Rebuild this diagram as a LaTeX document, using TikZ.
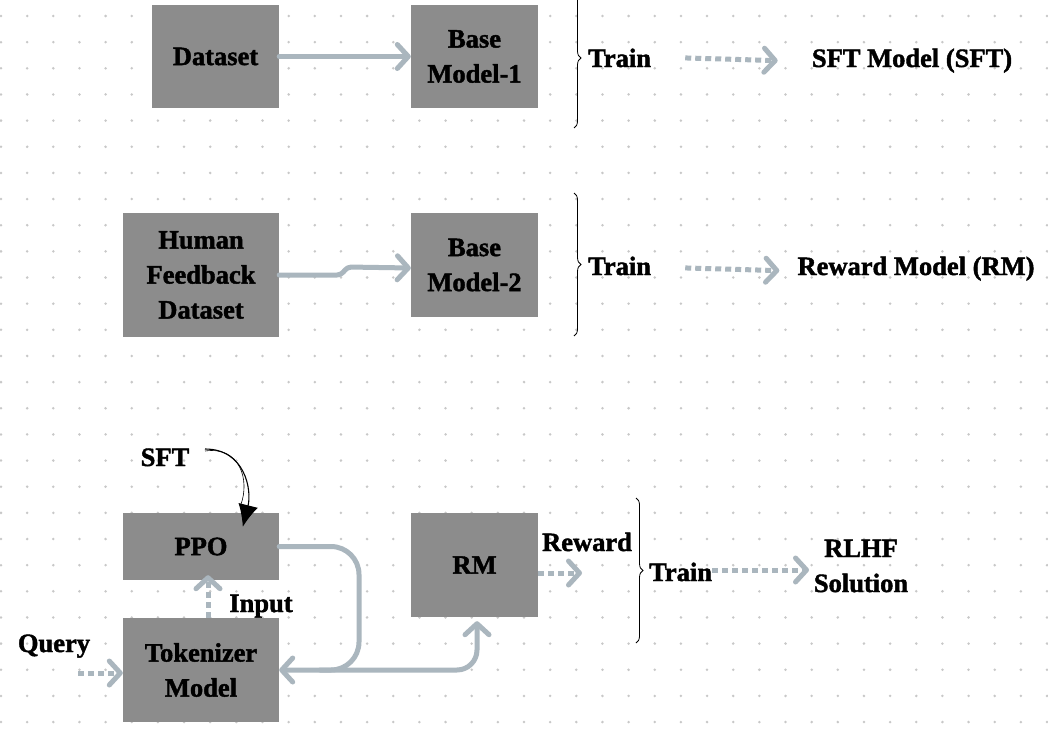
\documentclass[tikz,border=0pt]{standalone}
\usepackage{fontspec}
\setmainfont{Liberation Serif}[BoldFeatures={FakeBold=1.6}]
\usetikzlibrary{arrows.meta,decorations.pathreplacing}
\definecolor{boxgray}{RGB}{140,140,140}
\definecolor{arrowgray}{RGB}{170,182,190}
\definecolor{dotgray}{RGB}{200,200,200}
\begin{document}
\begin{tikzpicture}[x=1pt,y=-1pt,
  box/.style={fill=boxgray, inner sep=0pt, align=center, font=\bfseries\fontsize{26.5}{35}\selectfont},
  lbl/.style={inner sep=0pt, font=\bfseries\fontsize{26.5}{35}\selectfont},
  conn/.style={draw=arrowgray, line width=5pt, line cap=round, line join=round,
    -{Straight Barb[length=11pt,width=24pt,line cap=round,line join=round]}},
  dconn/.style={conn, dash pattern=on 6pt off 4pt, line cap=butt},
  brc/.style={decorate, decoration={brace, amplitude=7pt}, draw=black, line width=0.8pt}
]
\useasboundingbox (0,0) rectangle (1048,736);
\fill[white] (0,0) rectangle (1048,736);
% dot grid
\foreach \i in {0,...,40}{
  \foreach \j in {0,...,27}{
    \fill[dotgray] (1+26.15*\i, 16+26.15*\j) circle (1.4pt);
  }
}
% boxes
\node[box, minimum width=127pt, minimum height=103pt] (ds) at (215.5,56.5) {Dataset};
\node[box, minimum width=127pt, minimum height=103pt] (b1) at (474.5,56.5) {Base\\Model-1};
\node[box, minimum width=156pt, minimum height=124pt] (hf) at (201,275) {Human\\Feedback\\Dataset};
\node[box, minimum width=127pt, minimum height=104pt] (b2) at (474.5,265) {Base\\Model-2};
\node[box, minimum width=156pt, minimum height=67pt] (ppo) at (201,546.5) {PPO};
\node[box, minimum width=156pt, minimum height=104pt] (tok) at (201,670) {Tokenizer\\Model};
\node[box, minimum width=127pt, minimum height=104pt] (rm) at (474.5,565) {RM};
% labels
\node[lbl, anchor=base west] (tr1) at (588,67) {Train};
\node[lbl, anchor=base] (sftm) at (912,67) {SFT Model (SFT)};
\node[lbl, anchor=base west] (tr2) at (588,275) {Train};
\node[lbl, anchor=base] (rmm) at (916,275) {Reward Model (RM)};
\node[lbl, anchor=base] (rw) at (587,551) {Reward};
\node[lbl, anchor=base west] (tr3) at (649,581) {Train};
\node[lbl, align=center] (rlhf) at (861,566) {RLHF\\Solution};
\node[lbl, anchor=base] (inp) at (261,612) {Input};
\node[lbl, anchor=base] (qry) at (54,652) {Query};
\node[lbl, anchor=base] (sft) at (165,466) {SFT};
% braces
\draw[brc] (574,-12) -- (574,128);
\draw[brc] (574,193) -- (574,336);
\draw[brc] (636,498) -- (636,643);
% solid connectors
\draw[conn] (ds.east) -- (b1.west);
\draw[conn, rounded corners=4pt] (hf.east) -- ++(62,0) -- ++(6,-8) -- ([yshift=-3pt]b2.west);
\draw[conn, rounded corners=28pt] (ppo.east) -- (359,546.5) -- (359,670) -- (tok.east);
\draw[conn, rounded corners=20pt] (320,670) -- (477,670) -- ([xshift=2.5pt,yshift=-4pt]rm.south);
% dotted connectors
\draw[dconn] ([xshift=34pt]tr1.east) -- ([xshift=-34pt]sftm.west);
\draw[dconn] ([xshift=34pt,yshift=-2pt]tr2.east) -- ([xshift=-18pt,yshift=-2pt]rmm.west);
\coordinate (rlend) at (809,570);
\draw[dconn] (tr3.east |- rlend) -- (rlend);
\coordinate (rwend) at (582,573);
\draw[dconn] (rm.east |- rwend) -- (rwend);
\coordinate (qs) at (78,673);
\draw[dconn] (qs) -- (tok.west |- qs);
\draw[dconn] ([xshift=7pt]tok.north) -- ([xshift=7pt,yshift=5pt]ppo.south);
% SFT sketch arrow
\coordinate (sfts) at (205,449);
\draw[line width=1.1pt, -{Latex[length=22pt,width=20pt]}] (sfts) .. controls (245,449) and (252,490) .. ([xshift=120pt,yshift=-14pt]ppo.north west);
\draw[line width=0.6pt] ([yshift=-2pt]sfts) .. controls (240,446) and (250,480) .. ([xshift=118pt,yshift=8pt]ppo.north west);
\end{tikzpicture}
\end{document}
